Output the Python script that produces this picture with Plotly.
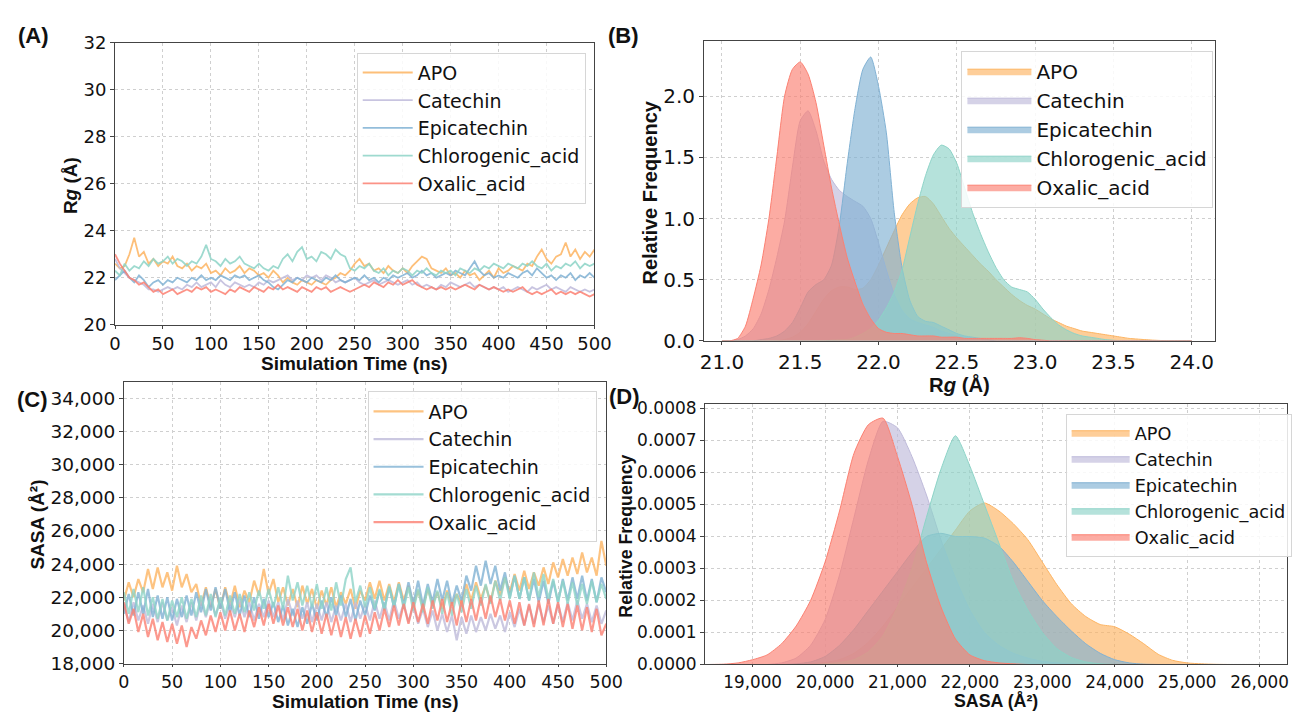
import plotly.graph_objects as go

W, H = 1308, 722

names = ["APO", "Catechin", "Epicatechin", "Chlorogenic_acid", "Oxalic_acid"]
colors = ["#FDB462", "#BEBADA", "#80B1D3", "#8DD3C7", "#FB8072"]

time_ns = list(range(0, 505, 5))

rg_apo = [22.6,22.4,22.5,23.0,23.7,22.9,23.1,22.6,22.8,22.5,22.7,22.6,22.9,22.5,22.4,22.6,22.3,22.5,22.4,22.6,
          22.2,22.3,22.1,22.4,22.2,22.3,22.5,22.2,22.4,22.3,22.1,22.2,22.0,22.3,22.1,21.8,22.0,21.8,21.7,21.9,
          21.8,21.7,21.9,21.8,21.7,21.9,22.0,22.2,22.1,22.3,22.6,22.8,22.5,22.6,22.3,22.4,22.2,22.5,22.3,22.2,
          22.4,22.2,22.5,22.7,22.9,22.8,22.4,22.3,22.2,22.4,22.1,22.2,22.0,22.3,22.1,22.2,21.9,22.1,22.3,22.0,
          22.4,22.2,22.3,22.5,22.4,22.3,22.6,22.5,22.9,23.2,22.8,22.6,22.9,23.0,23.5,22.9,23.2,22.8,23.1,22.9,23.2]
rg_catechin = [22.8,22.4,22.2,22.0,21.9,21.8,21.7,21.5,21.5,21.4,21.5,21.6,21.5,21.6,21.5,21.7,21.6,21.8,21.6,21.7,
               21.8,21.6,21.9,21.7,21.6,21.8,21.7,21.6,21.7,21.6,21.8,21.7,21.9,21.8,21.9,22.0,22.1,21.9,22.0,21.9,
               22.1,22.0,22.1,21.9,22.1,22.0,21.8,21.9,21.8,21.9,22.0,21.8,21.7,21.8,21.9,21.7,21.8,21.9,21.8,21.7,
               21.8,21.9,21.7,21.8,21.6,21.7,21.6,21.5,21.7,21.6,21.8,21.7,21.6,21.7,21.8,21.6,21.7,21.6,21.5,21.6,
               21.5,21.6,21.4,21.5,21.6,21.5,21.4,21.6,21.5,21.6,21.7,21.5,21.6,21.5,21.4,21.6,21.5,21.4,21.5,21.4,21.5]
rg_epicatechin = [21.9,22.1,22.3,22.0,21.8,22.1,21.9,21.6,21.8,21.9,21.7,21.9,21.8,22.0,21.9,21.8,22.0,21.9,22.1,21.9,
                  22.0,21.9,22.1,22.0,21.9,22.1,22.0,22.1,21.9,22.0,22.1,21.9,21.8,21.6,21.5,21.7,21.9,21.8,22.0,21.9,
                  21.8,22.0,21.9,21.8,22.0,21.9,22.1,21.9,21.8,21.9,22.0,21.9,22.1,21.9,22.0,21.8,22.0,21.9,22.1,22.0,
                  22.1,22.2,22.0,22.1,22.3,22.1,22.2,22.0,22.1,22.2,22.1,22.3,22.2,22.1,22.4,22.7,22.3,22.1,22.2,22.0,
                  22.1,22.0,22.2,22.1,22.0,22.2,22.3,22.1,22.4,22.2,22.0,22.1,21.9,22.1,22.0,22.2,21.9,22.1,22.0,22.2,22.0]
rg_chlorogenic = [22.3,22.1,22.6,22.3,22.5,22.4,22.7,22.5,22.8,22.6,22.7,22.9,22.6,22.8,22.7,22.5,22.7,22.6,22.9,23.4,
                  22.8,22.7,22.5,22.8,22.6,22.7,22.9,22.6,22.5,22.4,22.6,22.4,22.3,22.5,22.4,22.8,23.0,22.7,23.1,23.3,
                  22.8,22.9,22.7,23.1,23.0,22.8,23.2,23.0,22.9,22.4,22.3,22.5,22.4,22.6,22.3,22.2,22.4,22.1,22.3,22.2,
                  22.4,22.3,22.1,22.3,22.2,22.4,22.2,22.1,22.3,22.2,22.3,22.1,22.4,22.3,22.2,22.4,22.3,22.5,22.4,22.6,
                  22.5,22.4,22.6,22.5,22.4,22.6,22.5,22.7,22.5,22.4,22.6,22.3,22.5,22.4,22.6,22.5,22.7,22.4,22.6,22.5,22.6]
rg_oxalic = [23.0,22.6,22.3,22.0,21.9,21.7,21.8,21.6,21.4,21.5,21.3,21.4,21.5,21.3,21.4,21.5,21.4,21.6,21.5,21.6,
             21.4,21.5,21.4,21.3,21.5,21.4,21.6,21.5,21.4,21.6,21.5,21.4,21.6,21.5,21.7,21.5,21.6,21.5,21.4,21.6,
             21.5,21.4,21.6,21.5,21.6,21.4,21.5,21.6,21.5,21.4,21.5,21.6,21.7,21.6,21.8,21.7,21.6,21.8,21.7,21.9,
             21.7,21.8,21.9,21.7,21.6,21.5,21.6,21.5,21.6,21.5,21.6,21.5,21.6,21.7,21.6,21.5,21.7,21.6,21.5,21.6,
             21.5,21.4,21.5,21.4,21.5,21.6,21.4,21.3,21.4,21.3,21.4,21.5,21.3,21.4,21.3,21.4,21.3,21.4,21.3,21.2,21.3]

sasa_apo = [21800,22900,22000,23100,22300,23700,22500,23800,22600,23500,22400,23900,22600,23400,22300,22800,21500,22600,21400,22500,
            21300,22600,21500,22700,21400,22400,21700,23000,22100,23700,22200,23100,21700,22600,21500,22500,21400,22700,21600,22500,
            21300,22400,21500,22600,21400,22300,21600,22500,21300,22400,21800,22900,21900,23000,21800,22800,21700,22900,21800,22700,
            21500,22400,21400,22500,21600,22300,21300,22400,21500,22200,21600,22800,21800,22900,21900,22700,21700,23000,22100,23200,
            22300,23400,22400,23600,22500,23500,22700,23800,22800,24100,23200,24300,23300,24400,23400,24700,23500,24400,23300,25400,23900]
sasa_catechin = [21600,20500,21700,20600,21500,20400,21600,20500,21700,20600,21400,20300,21500,20500,21700,20600,21800,20800,21900,20900,
                 21800,20700,21700,20800,21900,20800,21700,20600,21600,20800,21800,20800,21700,20600,21900,20900,21800,20700,21700,20500,
                 21600,20600,21700,20500,21500,20600,21600,20500,21700,20700,21600,20600,21800,20700,21700,20600,21800,20700,21600,20500,
                 21500,20400,21300,20200,21200,20000,21000,19900,20900,19400,20800,19800,20900,19900,20800,20000,21000,20100,20900,19900,
                 21100,20200,21300,20300,21500,20400,21600,20500,21500,20400,21600,20500,21700,20600,21800,20700,21600,20500,21500,20400,21200]
sasa_epicatechin = [21000,22200,20900,22300,21000,22500,20800,22100,20700,22000,20600,21900,20800,22100,20900,22300,21100,22500,21200,22600,
                    21300,22500,21100,22300,20900,22100,20800,22000,20700,21900,20800,21700,20500,21500,20300,21300,20200,21400,20400,21600,
                    20600,21800,20800,22000,20900,22100,20800,21900,20600,21800,20900,22100,21200,22400,21300,22600,21400,22800,21500,22900,
                    21600,23000,21500,22800,21700,23100,21800,23000,21600,22700,21800,23300,22400,23900,22700,24200,22800,23900,22400,23500,
                    22000,23300,21900,23200,21800,23100,21700,23000,21600,23000,21700,23100,21800,23200,21900,23300,21800,23100,21700,23200,22300]
sasa_chlorogenic = [22300,21000,22500,21100,22600,20900,22000,20700,21900,20600,21800,20800,22000,20700,21900,20800,22100,20900,22200,20800,
                    22000,20900,22100,21000,22200,21100,22300,21200,22400,21300,22500,21400,22600,21300,23300,21800,22900,21500,22700,21400,
                    22800,21300,22600,21200,22900,21500,23100,23800,21700,22700,21400,22600,21300,22500,21200,22700,21400,22800,21300,22600,
                    21200,22500,21100,22600,21300,22400,21000,22300,20900,22200,21100,22500,21300,22700,21500,22800,21600,23000,21800,23200,
                    21900,23300,21900,23200,21800,23500,22000,23400,21900,23100,21700,23000,21600,22900,21500,22800,21600,23000,21700,22800,21900]
sasa_oxalic = [21700,20400,21300,19900,21000,19600,20700,19400,20500,19300,20400,19200,20300,19000,20200,19500,20600,19700,20900,19900,
               21100,20000,21200,20000,21000,19900,21200,20200,21400,20300,21600,20400,21500,20300,21400,20200,21300,20000,21200,19900,
               21100,19800,21000,19700,20900,19600,20800,19500,20700,19600,20900,19800,21100,20000,21300,20200,21500,20300,21600,20400,
               21700,20500,21600,20400,21800,20600,21900,20500,21700,20300,21800,20500,21900,20600,22000,20700,22100,20800,21900,20600,
               21800,20400,21700,20300,21600,20200,21800,20300,21900,20400,21700,20200,21600,20100,21500,20000,21400,19900,21300,19700,20400]

rg_grid = [21.00,21.05,21.10,21.15,21.20,21.25,21.30,21.35,21.40,21.45,21.50,21.55,21.60,21.65,21.70,21.75,21.80,21.85,21.90,21.95,
           22.00,22.05,22.10,22.15,22.20,22.25,22.30,22.35,22.40,22.45,22.50,22.55,22.60,22.65,22.70,22.75,22.80,22.85,22.90,22.95,
           23.00,23.05,23.10,23.15,23.20,23.25,23.30,23.35,23.40,23.45,23.50,23.55,23.60,23.65,23.70,23.75,23.80,23.85,23.90,23.95,24.00]
kde_rg_apo = [0,0,0,0,0,0,0,0,0.01,0.03,0.07,0.14,0.24,0.34,0.41,0.44,0.44,0.42,0.43,0.50,
              0.62,0.76,0.90,1.03,1.12,1.17,1.18,1.12,1.02,0.92,0.84,0.77,0.70,0.63,0.57,0.50,0.44,0.38,0.33,0.29,
              0.26,0.22,0.18,0.15,0.12,0.10,0.08,0.07,0.06,0.05,0.04,0.03,0.02,0.015,0.01,0.006,0.003,0,0,0,0]
kde_rg_catechin = [0,0,0.01,0.04,0.10,0.22,0.42,0.68,0.98,1.42,1.80,1.88,1.72,1.47,1.32,1.23,1.18,1.14,1.10,1.00,
                   0.80,0.58,0.38,0.25,0.18,0.15,0.13,0.11,0.08,0.06,0.04,0.03,0.02,0.01,0.005,0,0,0,0,0,
                   0,0,0,0,0,0,0,0,0,0,0,0,0,0,0,0,0,0,0,0,0]
kde_rg_epicatechin = [0,0,0,0,0,0.01,0.02,0.04,0.08,0.15,0.27,0.40,0.46,0.50,0.62,0.95,1.45,1.90,2.22,2.32,
                      2.08,1.70,1.05,0.60,0.33,0.20,0.16,0.15,0.12,0.09,0.06,0.04,0.03,0.02,0.01,0,0,0,0,0,
                      0,0,0,0,0,0,0,0,0,0,0,0,0,0,0,0,0,0,0,0,0]
kde_rg_chlorogenic = [0,0,0,0,0,0,0,0,0,0,0,0,0,0,0.005,0.008,0.01,0.03,0.06,0.10,
                      0.17,0.27,0.40,0.58,0.85,1.12,1.35,1.52,1.60,1.57,1.45,1.25,1.05,0.88,0.73,0.60,0.50,0.44,0.42,0.40,
                      0.34,0.26,0.19,0.13,0.09,0.06,0.04,0.03,0.02,0.01,0.005,0,0,0,0,0,0,0,0,0,0]
kde_rg_oxalic = [0,0,0.02,0.12,0.35,0.62,1.00,1.50,2.00,2.22,2.28,2.18,1.95,1.60,1.25,0.95,0.68,0.48,0.30,0.18,
                 0.10,0.07,0.06,0.06,0.05,0.04,0.04,0.04,0.03,0.03,0.03,0.02,0.02,0.02,0.02,0.02,0.02,0.02,0.025,0.02,
                 0.01,0.005,0,0,0,0,0,0,0,0,0,0,0,0,0,0,0,0,0,0,0]

sasa_grid = [18400,18600,18800,19000,19200,19400,19600,19800,20000,20200,20400,20600,20800,21000,21200,21400,21600,21800,22000,22200,
             22400,22600,22800,23000,23200,23400,23600,23800,24000,24200,24400,24600,24800,25000,25200,25400,25600,25800,26000]
# densities in units of 1e-4 per Å²
kde_sasa_apo = [0,0,0,0,0,0,0,0.02,0.06,0.15,0.35,0.70,1.20,1.80,2.40,3.00,3.60,4.20,4.80,5.05,
                4.80,4.40,3.90,3.20,2.50,1.90,1.50,1.25,1.18,0.95,0.65,0.32,0.13,0.05,0.02,0.005,0,0,0]
kde_sasa_catechin = [0,0,0,0,0,0.05,0.20,0.60,1.40,2.80,4.60,6.40,7.60,7.40,6.50,5.30,3.90,2.70,1.70,1.00,
                     0.60,0.35,0.20,0.10,0.05,0.02,0,0,0,0,0,0,0,0,0,0,0,0,0]
kde_sasa_epicatechin = [0,0,0,0,0,0,0.02,0.08,0.25,0.60,1.10,1.70,2.30,2.90,3.50,4.00,4.10,4.00,4.00,3.95,
                        3.70,3.20,2.60,2.00,1.50,1.05,0.65,0.35,0.15,0.05,0.01,0,0,0,0,0,0,0,0]
kde_sasa_chlorogenic = [0,0,0,0,0,0,0,0,0.02,0.06,0.15,0.40,0.90,1.80,3.00,4.60,6.10,7.15,6.20,5.00,
                        3.80,2.60,1.70,1.00,0.50,0.22,0.08,0.02,0,0,0,0,0,0,0,0,0,0,0]
kde_sasa_oxalic = [0,0.01,0.05,0.15,0.30,0.65,1.20,2.00,3.20,4.80,6.60,7.50,7.70,6.50,5.00,3.20,1.80,0.80,0.30,0.12,
                   0.05,0.02,0,0,0,0,0,0,0,0,0,0,0,0,0,0,0,0,0]

rg_series = [rg_apo, rg_catechin, rg_epicatechin, rg_chlorogenic, rg_oxalic]
sasa_series = [sasa_apo, sasa_catechin, sasa_epicatechin, sasa_chlorogenic, sasa_oxalic]
kde_rg = [kde_rg_apo, kde_rg_catechin, kde_rg_epicatechin, kde_rg_chlorogenic, kde_rg_oxalic]
kde_sasa = [kde_sasa_apo, kde_sasa_catechin, kde_sasa_epicatechin, kde_sasa_chlorogenic, kde_sasa_oxalic]


def rgba(hx, a):
    hx = hx.lstrip("#")
    r, g, b = int(hx[0:2], 16), int(hx[2:4], 16), int(hx[4:6], 16)
    return f"rgba({r},{g},{b},{a})"


def px_x(p):
    return p / W


def px_y(p):
    return 1 - p / H


fig = go.Figure()

for i, n in enumerate(names):
    fig.add_trace(go.Scatter(x=time_ns, y=rg_series[i], mode="lines", name=n,
                             line=dict(color=rgba(colors[i], 0.85), width=1.8),
                             xaxis="x", yaxis="y", legend="legend"))
for i, n in enumerate(names):
    fig.add_trace(go.Scatter(x=rg_grid, y=kde_rg[i], mode="lines", name=n, fill="tozeroy",
                             fillcolor=rgba(colors[i], 0.65), line=dict(color=colors[i], width=1, shape="spline", smoothing=0.6),
                             xaxis="x2", yaxis="y2", legend="legend2"))
for i, n in enumerate(names):
    fig.add_trace(go.Scatter(x=time_ns, y=sasa_series[i], mode="lines", name=n,
                             line=dict(color=rgba(colors[i], 0.8), width=2.2),
                             xaxis="x3", yaxis="y3", legend="legend3"))
for i, n in enumerate(names):
    fig.add_trace(go.Scatter(x=sasa_grid, y=[v * 1e-4 for v in kde_sasa[i]], mode="lines", name=n, fill="tozeroy",
                             fillcolor=rgba(colors[i], 0.65), line=dict(color=colors[i], width=1, shape="spline", smoothing=0.6),
                             xaxis="x4", yaxis="y4", legend="legend4"))

TICKF = "DejaVu Sans"
BOLDF = "Liberation Sans"
GRID = "#cfcfcf"
LINE = "#444444"


def ax(domain, anchor, rng, size, **kw):
    d = dict(domain=domain, anchor=anchor, range=rng, showline=True, mirror=True, linecolor=LINE, linewidth=1,
             ticks="outside", ticklen=4, tickcolor=LINE, showgrid=True, gridcolor=GRID, gridwidth=0.8,
             griddash="dot", zeroline=False, tickfont=dict(family=TICKF, size=size, color="#111"))
    d.update(kw)
    return d


fig.update_layout(
    width=W, height=H, margin=dict(l=0, r=0, t=0, b=0), plot_bgcolor="white", paper_bgcolor="white",
    showlegend=True,
    xaxis=ax([px_x(111), px_x(599)], "y", [0, 500], 18, tickvals=list(range(0, 501, 50)), ticklen=3),
    yaxis=ax([px_y(324), px_y(33)], "x", [20, 32], 18, tickvals=[20, 22, 24, 26, 28, 30, 32]),
    xaxis2=ax([px_x(710.6), px_x(1230.7)], "y2", [20.886, 24.149], 20,
              tickvals=[21.0, 21.5, 22.0, 22.5, 23.0, 23.5, 24.0], tickformat=".1f", ticklen=3),
    yaxis2=ax([px_y(340.7), px_y(31)], "x2", [0, 2.451], 20, tickvals=[0, 0.5, 1.0, 1.5, 2.0], tickformat=".1f"),
    xaxis3=ax([px_x(120), px_x(611)], "y3", [0, 500], 17.5, tickvals=list(range(0, 501, 50)), ticklen=2),
    yaxis3=ax([px_y(674), px_y(383)], "x3", [18000, 35000], 18.5,
              tickvals=list(range(18000, 34001, 2000)), tickformat=","),
    xaxis4=ax([px_x(711.5), px_x(1304)], "y4", [18342, 26380], 16.8,
              tickvals=list(range(19000, 26001, 1000)), tickformat=",", ticklen=2),
    yaxis4=ax([px_y(675), px_y(406)], "x4", [0, 0.000814], 17,
              tickvals=[0, 0.0001, 0.0002, 0.0003, 0.0004, 0.0005, 0.0006, 0.0007, 0.0008], tickformat=".4f"),
)

leg_common = dict(xanchor="left", yanchor="top", bgcolor="rgba(255,255,255,0.85)", bordercolor="#d6d6d6",
                  borderwidth=1)
fig.update_layout(
    legend=dict(x=px_x(357), y=px_y(43), itemwidth=50, font=dict(family=TICKF, size=19, color="#111"), **leg_common),
    legend2=dict(x=px_x(972.5), y=px_y(41), itemwidth=64, font=dict(family=TICKF, size=20, color="#111"), **leg_common),
    legend3=dict(x=px_x(368), y=px_y(393), itemwidth=50, font=dict(family=TICKF, size=19, color="#111"), **leg_common),
    legend4=dict(x=px_x(1078.6), y=px_y(416), itemwidth=58, font=dict(family=TICKF, size=17.7, color="#111"), **leg_common),
)


def note(text, x, y, size, angle=0):
    fig.add_annotation(text=text, x=px_x(x), y=px_y(y), xref="paper", yref="paper", showarrow=False,
                       xanchor="center", yanchor="middle", textangle=angle,
                       font=dict(family=BOLDF, size=size, color="#111", weight="bold"))


note("(A)", 27.5, 25, 22)
note("(B)", 629, 25, 22)
note("(C)", 27, 401, 22)
note("(D)", 630, 398, 22)
note("R<i>g</i> (Å)", 65, 180, 19, -90)
note("Relative Frequency", 656, 187, 20, -90)
note("SASA (Å²)", 32, 530, 19, -90)
note("Relative Frequency", 631, 542, 17.8, -90)
note("Simulation Time (ns)", 355, 364, 19)
note("R<i>g</i> (Å)", 971, 386, 20.3)
note("Simulation Time (ns)", 365.5, 713, 19)
note("SASA (Å²)", 1008, 713, 17.8)

fig.write_html("out.html", config={"displayModeBar": False},
               post_script="document.body.style.margin='0';document.body.style.overflow='hidden';")
